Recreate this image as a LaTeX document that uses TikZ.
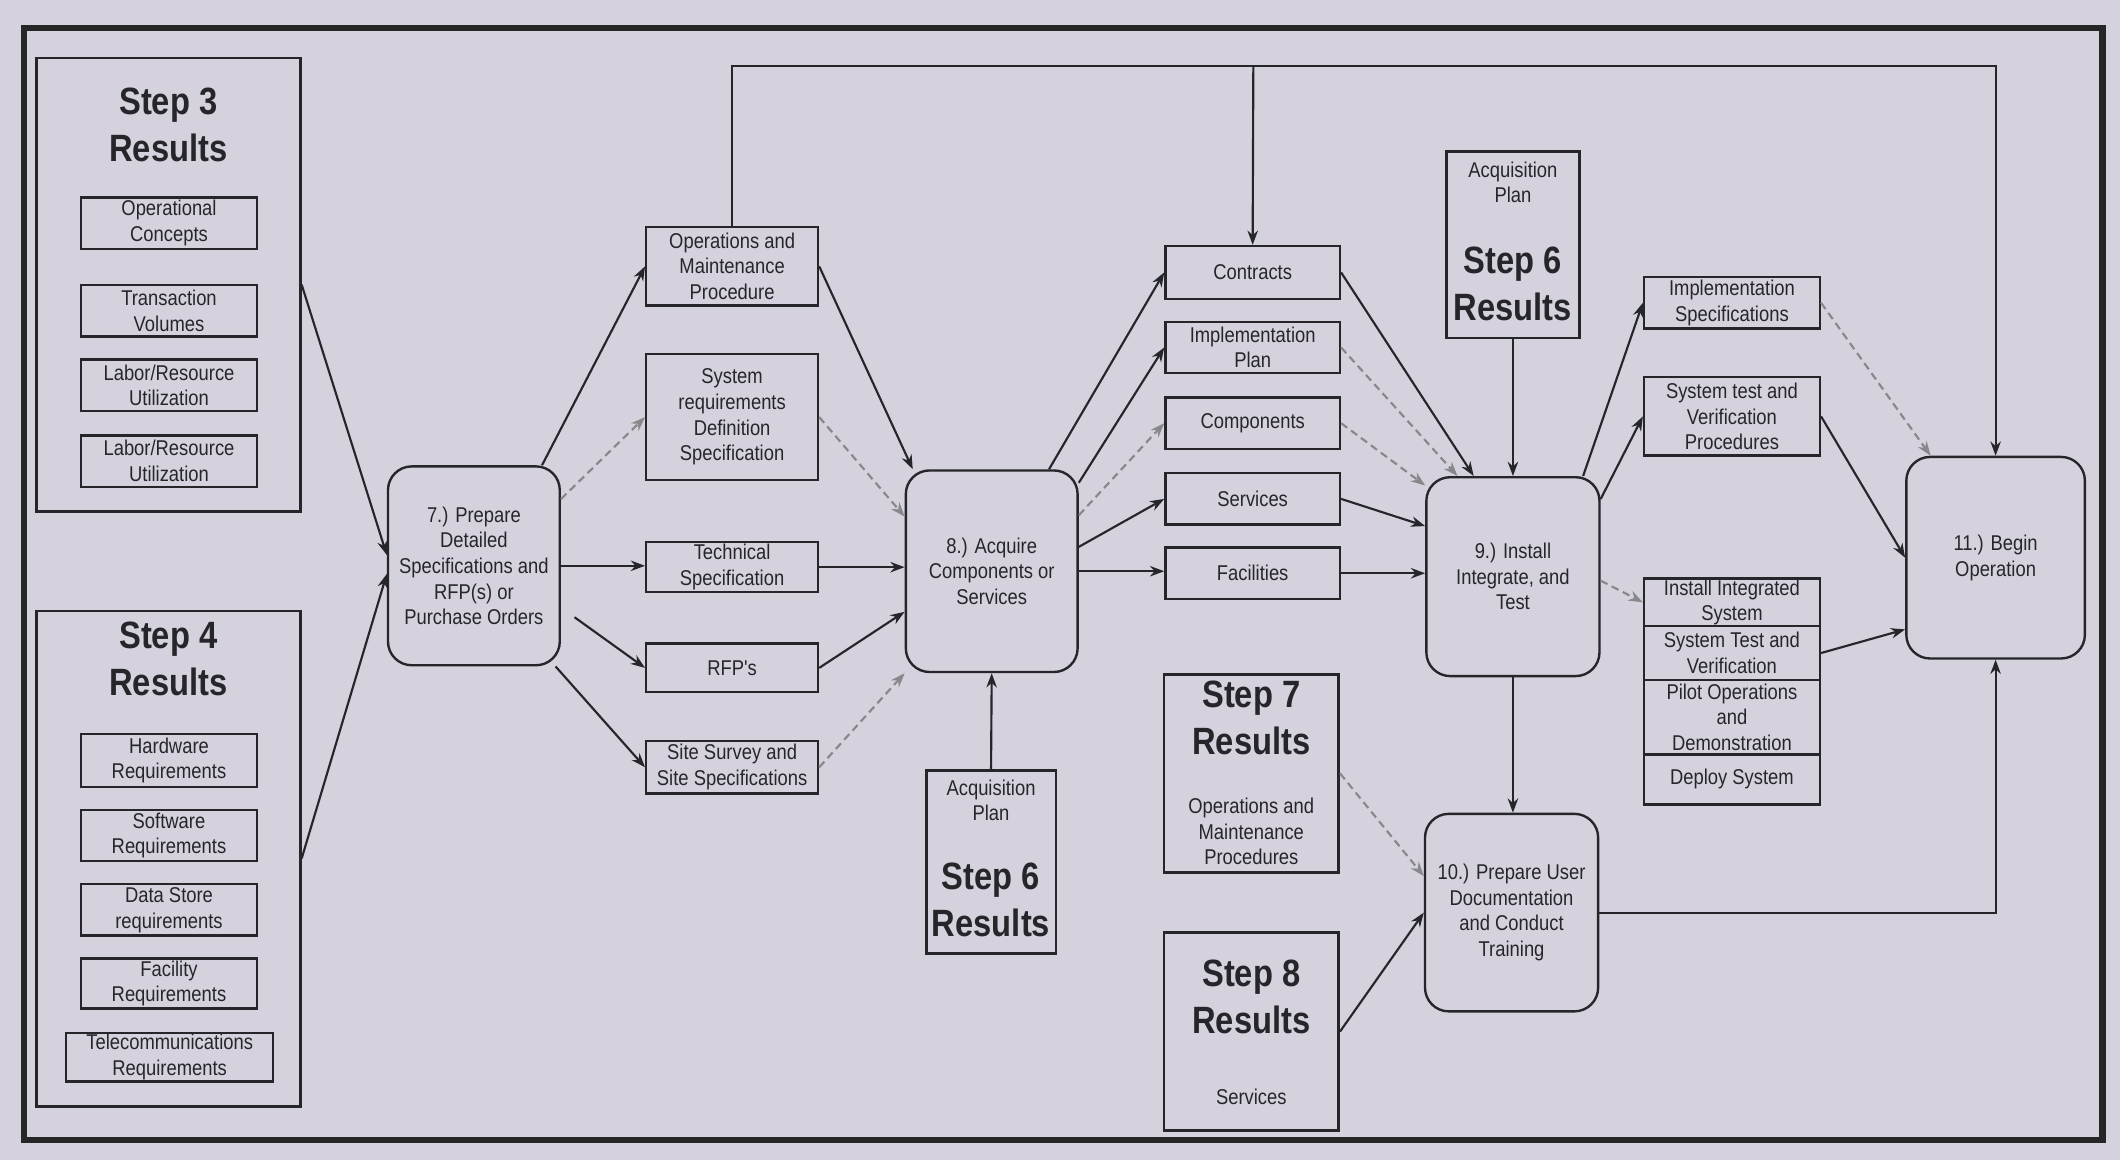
\documentclass[tikz,border=0pt]{standalone}
\usepackage{fontspec}
\setmainfont{Liberation Sans}
\newfontfamily\narrowfont{Liberation Sans}[FakeStretch=0.86]
\usetikzlibrary{arrows.meta}
\definecolor{paper}{RGB}{213,209,221}
\definecolor{ink}{RGB}{38,38,42}

\begin{document}
\begin{tikzpicture}[x=0.01cm, y=-0.01cm,
  wh/.style 2 args={minimum width=#1cm, minimum height=#2cm},
  lbl/.style={draw=ink, line width=0.5pt, align=center, inner sep=0pt, text=ink,
    font=\narrowfont\fontsize{4.5}{5.4}\selectfont},
  proc/.style={lbl, rounded corners=5pt},
  grp/.style={draw=ink, line width=0.6pt, inner sep=0pt},
  head/.style={align=center, inner sep=0pt, text=ink, font=\narrowfont\bfseries\fontsize{8}{10}\selectfont},
  note/.style={align=center, inner sep=0pt, text=ink, font=\narrowfont\fontsize{4.5}{5.4}\selectfont},
  flow/.style={draw=ink, line width=0.45pt, -{Stealth[length=3pt,width=2.2pt]}},
  faint/.style={flow, draw=ink!55, dash pattern=on 1.6pt off 1pt}]
  \fill[paper] (0,0) rectangle (1568,858);
  \draw[line width=1.3pt, black!85] (18,21) rectangle (1555,843);

  % step 3 results
  \node[grp, wh={1.95}{3.35}] (s3) at (124.5,210.5) {};
  \node[head] (s3h) at (124.5,92.5) {Step 3\\Results};
  \node[lbl, wh={1.30}{0.38}] (oc) at (125,165) {Operational\\Concepts};
  \node[lbl, wh={1.30}{0.38}] (tv) at (125,230) {Transaction\\Volumes};
  \node[lbl, wh={1.30}{0.38}] (lr1) at (125,285) {Labor/Resource\\Utilization};
  \node[lbl, wh={1.30}{0.38}] (lr2) at (125,341) {Labor/Resource\\Utilization};
  % step 4 results
  \node[grp, wh={1.95}{3.66}] (s4) at (124.5,635) {};
  \node[head] (s4h) at (124.5,487.5) {Step 4\\Results};
  \node[lbl, wh={1.30}{0.39}] (hw) at (125,562.5) {Hardware\\Requirements};
  \node[lbl, wh={1.30}{0.38}] (sw) at (125,618) {Software\\Requirements};
  \node[lbl, wh={1.30}{0.38}] (ds) at (125,673) {Data Store\\requirements};
  \node[lbl, wh={1.30}{0.37}] (fr) at (125,727.5) {Facility\\Requirements};
  \node[lbl, wh={1.53}{0.36}] (tc) at (125.5,782) {Telecommunications\\Requirements};

  % step 7
  \node[proc, wh={1.27}{1.47}] (n7) at (350.5,418.5) {7.) Prepare\\Detailed\\Specifications and\\RFP(s) or\\Purchase Orders};
  \node[lbl, wh={1.27}{0.58}] (om) at (541.5,197) {Operations and\\Maintenance\\Procedure};
  \node[lbl, wh={1.27}{0.93}] (srd) at (541.5,308.5) {System\\requirements\\Definition\\Specification};
  \node[lbl, wh={1.27}{0.37}] (ts) at (541.5,419.5) {Technical\\Specification};
  \node[lbl, wh={1.27}{0.36}] (rfp) at (541.5,494) {RFP's};
  \node[lbl, wh={1.27}{0.39}] (ssv) at (541.5,567.5) {Site Survey and\\Site Specifications};

  % step 8
  \node[proc, wh={1.27}{1.49}] (n8) at (733.5,422.5) {8.) Acquire\\Components or\\Services};
  \node[grp, wh={0.96}{1.35}] (ap1) at (733,637.5) {};
  \node[note] (ap1t) at (733,592) {Acquisition\\Plan};
  \node[head] (ap1h) at (733,665.5) {Step 6\\Results};
  \node[lbl, wh={1.29}{0.39}] (co) at (926.5,201.5) {Contracts};
  \node[lbl, wh={1.29}{0.38}] (ip) at (926.5,257) {Implementation\\Plan};
  \node[lbl, wh={1.29}{0.38}] (cm) at (926.5,313) {Components};
  \node[lbl, wh={1.29}{0.38}] (sv) at (926.5,369) {Services};
  \node[lbl, wh={1.29}{0.38}] (fa) at (926.5,424) {Facilities};

  % step 9
  \node[proc, wh={1.28}{1.47}] (n9) at (1119,426.5) {9.) Install\\Integrate, and\\Test};
  \node[grp, wh={0.98}{1.38}] (ap2) at (1119,181) {};
  \node[note] (ap2t) at (1119,135) {Acquisition\\Plan};
  \node[head] (ap2h) at (1119,210) {Step 6\\Results};
  \node[lbl, wh={1.30}{0.38}] (isp) at (1281,224) {Implementation\\Specifications};
  \node[lbl, wh={1.30}{0.58}] (stv) at (1281,308) {System test and\\Verification\\Procedures};
  \node[lbl, wh={1.30}{0.35}] (iis) at (1281,445.5) {Install Integrated\\System};
  \node[lbl, wh={1.30}{0.40}] (stv2) at (1281,483) {System Test and\\Verification};
  \node[lbl, wh={1.30}{0.55}] (pod) at (1281,530.5) {Pilot Operations\\and\\Demonstration};
  \node[lbl, wh={1.30}{0.37}] (dep) at (1281,576.5) {Deploy System};

  % steps 10 and 11
  \node[proc, wh={1.28}{1.46}] (n10) at (1118,675) {10.) Prepare User\\Documentation\\and Conduct\\Training};
  \node[proc, wh={1.32}{1.49}] (n11) at (1476,412.5) {11.) Begin\\Operation};
  \node[grp, wh={1.29}{1.46}] (s7) at (925.5,572) {};
  \node[head] (s7h) at (925.5,531) {Step 7\\Results};
  \node[note] (s7t) at (925.5,615) {Operations and\\Maintenance\\Procedures};
  \node[grp, wh={1.29}{1.46}] (s8) at (925.5,763) {};
  \node[head] (s8h) at (925.5,737.5) {Step 8\\Results};
  \node[note] (s8t) at (925.5,811) {Services};

  % into step 7
  \draw[flow] (s3.east) -- ([yshift=0.08cm]n7.west);
  \draw[flow] (s4.east) -- ([yshift=-0.06cm]n7.west);
  \draw[flow] ([xshift=-0.14cm]n7.north east) -- (om.west);
  \draw[faint] ([yshift=-0.25cm]n7.north east) -- (srd.west);
  \draw[flow] (n7.east) -- (n7.east -| ts.west);
  \draw[flow] ([xshift=0.1cm,yshift=-0.38cm]n7.east) -- (rfp.west);
  \draw[flow] ([xshift=-0.04cm]n7.south east) -- (ssv.west);
  % into step 8
  \draw[flow] (om.east) -- ([xshift=0.06cm]n8.north west);
  \draw[faint] (srd.east) -- ([yshift=-0.35cm]n8.north west);
  \draw[flow] (ts.east) -- (ts.east -| n8.west);
  \draw[flow] (rfp.east) -- ([yshift=-0.3cm]n8.west);
  \draw[faint] (ssv.east) -- (n8.south west);
  \draw[flow] (ap1.north) -- (n8.south);
  \draw[flow] ([xshift=-0.22cm]n8.north east) -- (co.west);
  \draw[flow] ([yshift=-0.1cm]n8.north east) -- (ip.west);
  \draw[faint] ([yshift=-0.34cm]n8.north east) -- (cm.west);
  \draw[flow] ([yshift=0.18cm]n8.east) -- (sv.west);
  \draw[flow] (n8.east) -- (n8.east -| fa.west);
  % into step 9
  \draw[flow] (co.east) -- ([xshift=-0.29cm]n9.north);
  \draw[faint] (ip.east) -- ([xshift=-0.41cm]n9.north);
  \draw[faint] (cm.east) -- ([yshift=-0.07cm]n9.north west);
  \draw[flow] (sv.east) -- ([yshift=-0.37cm]n9.north west);
  \draw[flow] (fa.east) -- (fa.east -| n9.west);
  \draw[flow] (ap2.south) -- (n9.north);
  \draw[flow] ([xshift=-0.13cm]n9.north east) -- (isp.west);
  \draw[flow] ([yshift=-0.17cm]n9.north east) -- (stv.west);
  \draw[faint] ([yshift=-0.03cm]n9.east) -- (iis.west);
  % into steps 10 and 11
  \draw[flow] (n9.south) -- (n9.south |- n10.north);
  \draw[faint] (s7.east) -- ([yshift=0.27cm]n10.west);
  \draw[flow] (s8.east) -- (n10.west);
  \draw[faint] (isp.east) -- ([xshift=-0.48cm]n11.north);
  \draw[flow] (stv.east) -- (n11.west);
  \draw[flow] (stv2.east) -- ([yshift=-0.53cm]n11.west);
  \draw[flow] (n10.east) -| (n11.south);
  % feedback along the top
  \coordinate (top) at (927,49);
  \draw[flow] (om.north) |- (top) -| (n11.north);
  \draw[flow] (top) -- (co.north);
\end{tikzpicture}
\end{document}
